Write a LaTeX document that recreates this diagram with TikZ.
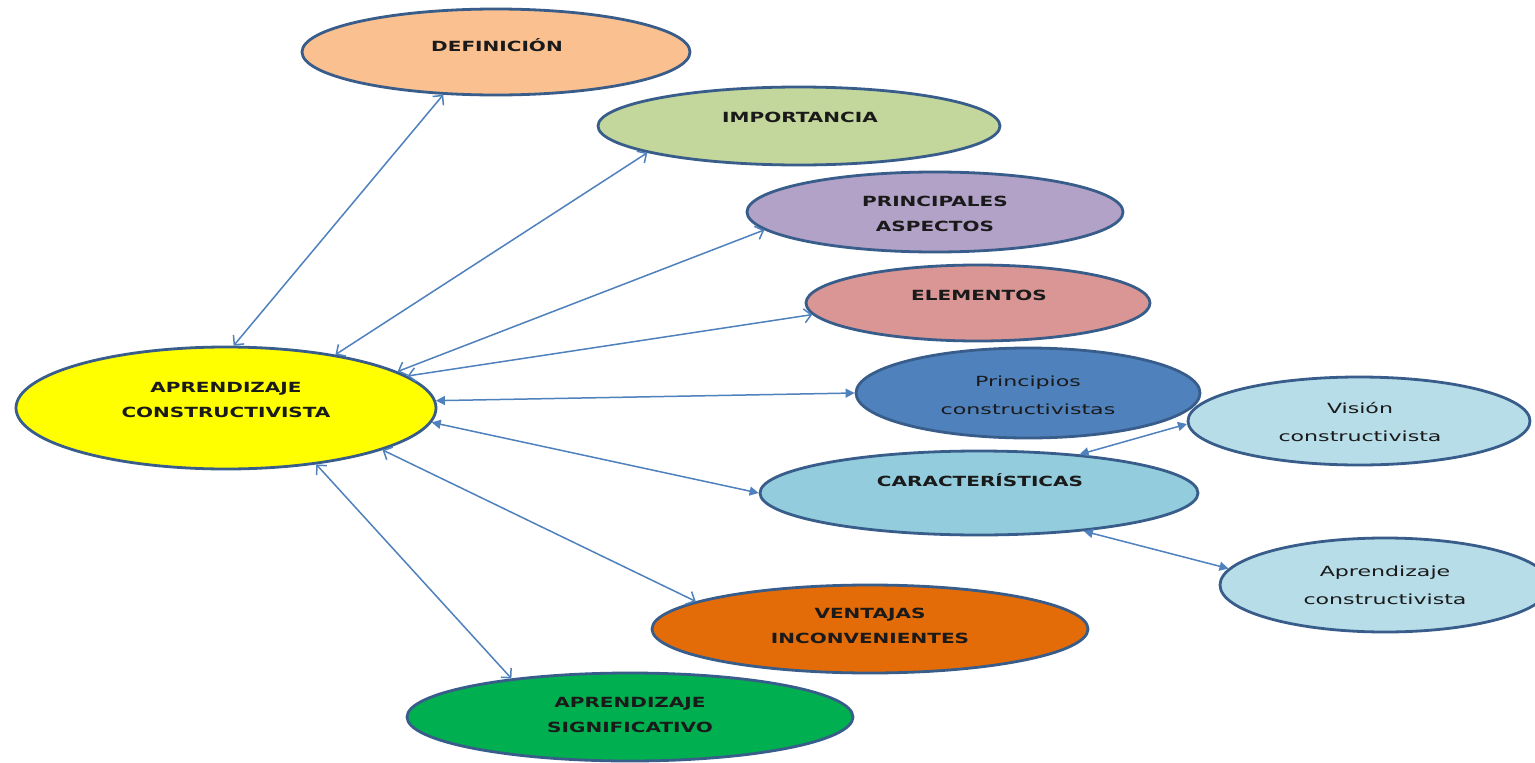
\documentclass[tikz,border=0pt]{standalone}
\usepackage{fontspec}
\setmainfont{DejaVu Sans}
\usepackage{graphicx}
\usetikzlibrary{shapes.geometric,arrows.meta}
\definecolor{bord}{HTML}{385D8A}
\definecolor{arr}{HTML}{4F81BD}
\definecolor{cDef}{HTML}{FAC090}
\definecolor{cImp}{HTML}{C3D69B}
\definecolor{cPri}{HTML}{B3A2C7}
\definecolor{cEle}{HTML}{D99694}
\definecolor{cPrin}{HTML}{4F81BD}
\definecolor{cVis}{HTML}{B7DDE8}
\definecolor{cCar}{HTML}{93CDDD}
\definecolor{cVen}{HTML}{E36C09}
\definecolor{cSig}{HTML}{00B050}
\definecolor{cMain}{HTML}{FFFF00}
\definecolor{txtc}{HTML}{1A1A1A}
\newcommand{\uplab}[1]{\scalebox{1.43}[1]{\fontsize{14}{25}\selectfont\bfseries\begin{tabular}{@{}c@{}}#1\end{tabular}}}
\newcommand{\lolab}[1]{\scalebox{1.58}[1]{\fontsize{14}{28}\selectfont\begin{tabular}{@{}c@{}}#1\end{tabular}}}
\begin{document}
\begin{tikzpicture}[x=1pt,y=-1pt,
  oval/.style={ellipse, draw=bord, line width=2.8pt, inner sep=0pt},
  txt/.style={inner sep=0pt, text=txtc},
  dbl/.style={draw=arr, line width=1.5pt, {Straight Barb[length=7pt,width=14pt]}-{Straight Barb[length=7pt,width=14pt]}},
  dblf/.style={draw=arr, line width=1.5pt, {Triangle[length=9pt,width=9pt]}-{Triangle[length=9pt,width=9pt]}}]
\useasboundingbox (0,0) rectangle (1535,763);
\fill[white] (0,0) rectangle (1535,763);
% ellipses
\node[oval, fill=cDef, minimum width=388pt, minimum height=86pt] (def) at (496,52) {};
\node[oval, fill=cImp, minimum width=402pt, minimum height=78pt] (imp) at (799,126) {};
\node[oval, fill=cPri, minimum width=376pt, minimum height=80pt] (pri) at (935,212) {};
\node[oval, fill=cEle, minimum width=344pt, minimum height=76pt] (ele) at (978,303) {};
\node[oval, fill=cPrin, minimum width=344pt, minimum height=90pt] (prin) at (1028,393) {};
\node[oval, fill=cVis, minimum width=342pt, minimum height=88pt] (vis) at (1359,421) {};
\node[oval, fill=cCar, minimum width=438pt, minimum height=84pt] (car) at (979,493) {};
\node[oval, fill=cVis, minimum width=330pt, minimum height=94pt] (apr) at (1385,585) {};
\node[oval, fill=cVen, minimum width=436pt, minimum height=88pt] (ven) at (870,629) {};
\node[oval, fill=cSig, minimum width=446pt, minimum height=88pt] (sig) at (630,717) {};
\node[oval, fill=cMain, minimum width=420pt, minimum height=122pt] (main) at (226,408) {};
% texts
\node[txt] (tdef) at (497,46) {\uplab{DEFINICIÓN}};
\node[txt] (timp) at (800,117) {\uplab{IMPORTANCIA}};
\node[txt] (tpri) at (935,214) {\uplab{PRINCIPALES\\ASPECTOS}};
\node[txt] (tele) at (979,295) {\uplab{ELEMENTOS}};
\node[txt] (tprin) at (1028,395) {\lolab{Principios\\constructivistas}};
\node[txt] (tvis) at (1360,422) {\lolab{Visión\\constructivista}};
\node[txt] (tcar) at (980,481) {\uplab{CARACTERÍSTICAS}};
\node[txt] (tapr) at (1385,585) {\lolab{Aprendizaje\\constructivista}};
\node[txt] (tven) at (870,626) {\uplab{VENTAJAS\\INCONVENIENTES}};
\node[txt] (tsig) at (630,715) {\uplab{APRENDIZAJE\\SIGNIFICATIVO}};
\node[txt] (tmain) at (226,400) {\uplab{APRENDIZAJE\\CONSTRUCTIVISTA}};
% connectors
\draw[dbl] (main.83.7) -- (def.219.6);
\draw[dbl] (main.26.4) -- (imp.190.3);
\draw[dbl] (main.12.3) -- (pri.186.6);
\draw[dbl] (main.10.9) -- (ele.184.8);
\draw[dblf] (main.2.7) -- (prin.180);
\draw[dblf] (main.-4.1) -- (car.180);
\draw[dbl] (main.-15.3) -- (ven.171.5);
\draw[dbl] (main.-32.1) -- (sig.162.6);
\draw[dblf] (car.21) -- (vis.181.7);
\draw[dblf] (car.-20.7) -- (apr.174.6);
\end{tikzpicture}
\end{document}
